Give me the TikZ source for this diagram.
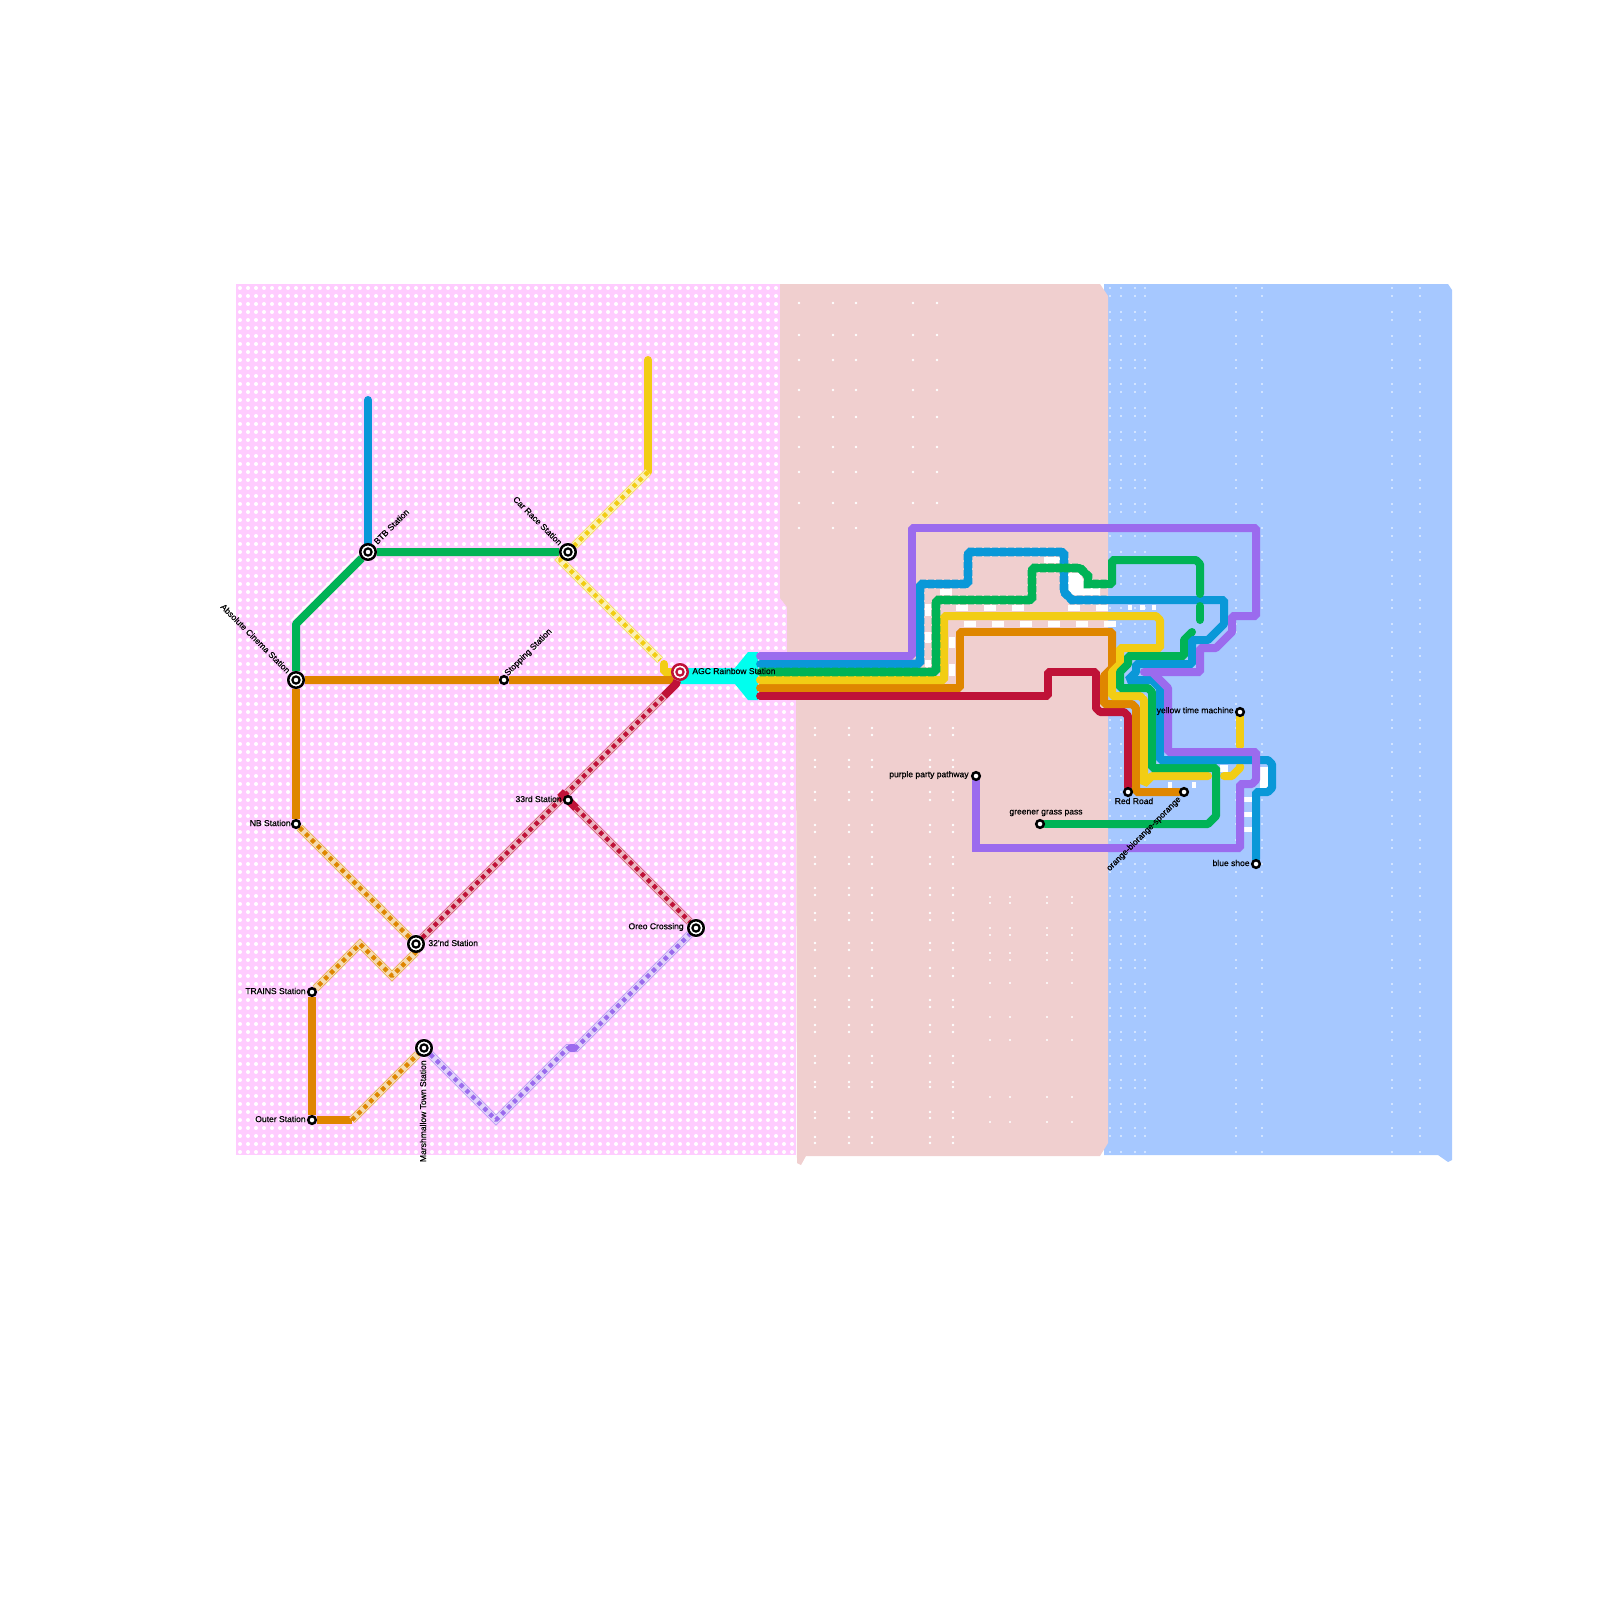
\documentclass[tikz,border=0pt]{standalone}
\usepackage{fontspec}
\usepackage{xcolor}
\setmainfont{Liberation Sans}
\newfontfamily\labelfont[FakeBold=0.4]{Liberation Sans}
\usetikzlibrary{backgrounds}
\definecolor{zonepink}{HTML}{FFCCFF}
\definecolor{zonerose}{HTML}{F0CFCF}
\definecolor{zonesky}{HTML}{A6C8FF}
\definecolor{railpurple}{HTML}{9B6BEE}
\definecolor{railblue}{HTML}{0A98D8}
\definecolor{railgreen}{HTML}{00B356}
\definecolor{railyellow}{HTML}{F2CD14}
\definecolor{railorange}{HTML}{DF8600}
\definecolor{railred}{HTML}{BF1238}
\definecolor{rivercyan}{HTML}{00FFEE}
\tikzset{
  rail/.style={line width=4pt, line cap=round, line join=bevel},
  scallop/.style={draw=#1, line width=3.9pt, line cap=round, line join=bevel,
    preaction={draw=#1, line width=4.4pt, dash pattern=on 3pt off 1pt, line cap=butt}},
  tunnel/.style={draw=#1, line width=2.2pt, line join=bevel, dash pattern=on 2.1pt off 2.1pt,
    preaction={draw=#1!70!white, solid, line width=4pt},
    preaction={draw=#1!30!white, solid, line width=3.2pt}},
  stop/.style={circle, draw=black, fill=white, line width=1.25pt, minimum size=3.8pt, inner sep=0pt},
  hub/.style={circle, draw=#1, fill=white, line width=1.25pt, minimum size=7.75pt, inner sep=0pt,
    path picture={\draw[#1, line width=1.1pt] (path picture bounding box.center) circle (1.8pt);}},
  hub/.default=black,
  dotrow/.style={white, line width=2pt, line cap=round, dash pattern=on 0pt off 4pt},
  stlabel/.style={font=\labelfont\fontsize{4.27}{5}\selectfont, inner sep=0pt, text=black},
}
\begin{document}
\begin{tikzpicture}[x=0.5pt, y=-0.5pt]
  \useasboundingbox (0,0) rectangle (1600,1600);

  % stations
  \node[hub] (absc) at (296,680) {};
  \node[hub] (btb) at (368,552) {};
  \node[hub] (carrace) at (568,552) {};
  \node[stop] (stopping) at (504,680) {};
  \node[hub=railred] (agc) at (680,672) {};
  \node[stop] (third) at (568,800) {};
  \node[hub] (oreo) at (696,928) {};
  \node[hub] (second) at (416,944) {};
  \node[hub] (marsh) at (424,1048) {};
  \node[stop] (nb) at (296,824) {};
  \node[stop] (trains) at (312,992) {};
  \node[stop] (outer) at (312,1120) {};
  \node[stop] (party) at (976,776) {};
  \node[stop] (grass) at (1040,824) {};
  \node[stop] (redroad) at (1128,792) {};
  \node[stop] (sporange) at (1184,792) {};
  \node[stop] (yellowtm) at (1240,712) {};
  \node[stop] (shoe) at (1256,864) {};

  % station names
  \node[stlabel, anchor=west] (agcname) at (692,671) {AGC Rainbow Station};
  \node[stlabel, anchor=west, rotate=45] (btbname) at (375,543) {BTB Station};
  \node[stlabel, anchor=east, rotate=-45] (abscname) at (289,672) {Absolute Cinema Station};
  \node[stlabel, anchor=east, rotate=-45] (carname) at (561,544) {Car Race Station};
  \node[stlabel, anchor=west, rotate=45] (stopname) at (506,675) {Stopping Station};
  \node[stlabel, anchor=east] (thirdname) at (562,799) {33rd Station};
  \node[stlabel, anchor=east] (oreoname) at (684,927) {Oreo Crossing};
  \node[stlabel, anchor=west] (secondname) at (428,943) {32'nd Station};
  \node[stlabel, anchor=east] (nbname) at (291,823) {NB Station};
  \node[stlabel, anchor=east] (trainsname) at (306,991) {TRAINS Station};
  \node[stlabel, anchor=east] (outername) at (306,1119) {Outer Station};
  \node[stlabel, anchor=east, rotate=90] (marshname) at (423,1060) {Marshmallow Town Station};
  \node[stlabel, anchor=east] (partyname) at (969,775) {purple party pathway};
  \node[stlabel] (grassname) at (1046,813) {greener grass pass};
  \node[stlabel] (redname) at (1134,801) {Red Road};
  \node[stlabel, anchor=east, rotate=45] (sporangename) at (1180,798) {orange-biorange-sporange};
  \node[stlabel, anchor=east] (yellowname) at (1234,711) {yellow time machine};
  \node[stlabel, anchor=east] (shoename) at (1250,863) {blue shoe};

  \begin{scope}[on background layer]
    % zones
    \fill[zonepink] (236,284) rectangle (796,1155);
    \foreach \i in {240,248,...,792}
      \draw[dotrow] (\i,288) -- (\i,1155);
    \fill[zonesky] (1104,284) -- (1448,284) -- (1452,290) -- (1452,1160) -- (1448,1162) -- (1438,1155) -- (1104,1155) -- cycle;
    \fill[zonerose] (780,284) -- (1100,284) -- (1108,296) -- (1108,1143) -- (1100,1156) -- (806,1156) -- (801,1165) -- (797,1163) -- (796,700) -- (787,700) -- (787,607) -- (780,598) -- cycle;

    % specks the zones let through
    \foreach \i in {799,833,856,913,937}
      \foreach \j in {303,335,360,390,417,447,472,503,528}
        \fill[white] (\i,\j) circle (0.7pt);
    \foreach \i in {815,849,872,930,953}
      \foreach \j in {728,735,760,767,792,800,825,832,857,864,888,895,913,920,943,950,968,976,1000,1007,1025,1032,1056,1063,1082,1087,1112,1118,1137,1143}
        \fill[white] (\i,\j) circle (0.7pt);
    \foreach \i in {990,1010,1047,1072}
      \foreach \j in {897,903,928,935,953,960,983,1017,1040,1097,1122}
        \fill[white] (\i,\j) circle (0.6pt);
    \foreach \i in {1110,1121,1135,1145,1236,1262,1392,1420}
      \foreach \j in {288,312,...,1152}
        \fill[white] (\i,\j) circle (0.45pt);
    \foreach \i in {1110,1121,1135,1145,1236,1262,1392,1420}
      \foreach \j in {296,320,...,1152}
        \fill[white] (\i,\j) circle (0.45pt);

    % bare ground beside the bundle
    \foreach \xa/\ya/\xb/\yb in {956/605/968/611, 984/605/996/611, 1012/605/1024/611, 1068/605/1080/611, 1096/605/1108/611,
        964/621/976/627, 992/621/1004/627, 1020/621/1032/627, 1048/621/1060/627, 1076/621/1088/627, 1104/621/1116/627,
        925/604/931/616, 925/632/931/643, 925/660/931/667, 949/637/955/648, 949/664/955/676,
        940/589/952/595, 1044/557/1060/563, 1128/605/1132/610, 1140/605/1145/610, 1152/605/1156/610,
        1168/782/1172/788, 1192/782/1196/788, 1243/797/1253/802, 1243/812/1253/817, 1243/827/1253/832,
        1260/767/1268/788, 1220/765/1228/772}
      \fill[white] (\xa,\ya) rectangle (\xb,\yb);
    \fill[white] (1067,573) -- (1080,573) -- (1087,588) -- (1100,588) -- (1100,595) -- (1073,595) -- (1068,590) -- cycle;

    % water
    \fill[rivercyan] (680,668) -- (735,668) -- (748,652) -- (758,652) -- (758,700) -- (748,700) -- (735,684) -- (680,684) -- cycle;

    % left side lines
    \draw[rail, railblue] (368,400) -- (btb);
    \draw[white, line width=0.7pt] (291,621) -- (359,553);
    \draw[rail, railgreen, line cap=butt] (absc) -- (296,624) -- (btb) -- (carrace);
    \draw[rail, railyellow] (648,360) -- (648,472);
    \draw[tunnel=railyellow] (648,472) -- (carrace);
    \draw[tunnel=railyellow] (carrace) -- (560,560) -- (660,660);
    \draw[rail, railyellow] (664,664) -- (664,672) -- (agc);
    \draw[rail, railorange, line cap=butt] (absc) -- (stopping) -- (672,680) -- (agc);
    \draw[rail, railorange, line cap=butt] (absc) -- (nb);
    \draw[tunnel=railorange] (nb) -- (second);
    \draw[tunnel=railorange] (second) -- (416,952) -- (392,976) -- (360,944) -- (trains);
    \draw[rail, railorange, line cap=butt] (trains) -- (outer) -- (352,1120);
    \draw[tunnel=railorange] (352,1120) -- (marsh);
    \draw[tunnel=railred] (second) -- (664,696);
    \draw[rail, railred, line cap=butt] (664,696) -- (676,684) -- (agc);
    \draw[tunnel=railred] (576,808) -- (oreo);
    \draw[rail, railred, line cap=butt] (560,792) -- (576,808);
    \draw[tunnel=railpurple] (marsh) -- (496,1120) -- (568,1048) -- (576,1048) -- (oreo);
    \draw[rail, railpurple] (571,1048) -- (574,1048);

    % right side lines, bundle first
    \draw[scallop=railred] (760,696) -- (1048,696) -- (1048,672) -- (1096,672) -- (1096,708);
    \draw[rail, railred] (1096,708) -- (1100,712) -- (1124,712) -- (1128,716) -- (redroad);
    \draw[scallop=railorange] (760,688) -- (960,688) -- (960,632) -- (1108,632);
    \draw[rail, railorange] (1108,632) -- (1112,632) -- (1112,668) -- (1104,676) -- (1104,704) -- (1132,704) -- (1136,708) -- (1136,792) -- (sporange);
    \draw[rail, railyellow] (760,680) -- (944,680) -- (944,616) -- (1156,616) -- (1160,620) -- (1160,648) -- (1120,648) -- (1120,664) -- (1112,672) -- (1112,696) -- (1140,696) -- (1144,700) -- (1144,784) -- (1152,776) -- (1208,776);
    \draw[rail, railyellow] (1224,776) -- (1232,776) -- (1240,768) -- (1240,766);
    \draw[rail, railyellow] (yellowtm) -- (1240,746);
    \draw[rail, railgreen] (1192,632) -- (1184,640) -- (1184,656) -- (1128,656) -- (1128,664) -- (1120,672) -- (1120,688) -- (1148,688) -- (1152,692) -- (1152,768) -- (1216,768) -- (1216,816) -- (1208,824) -- (1108,824);
    \draw[scallop=railgreen] (1108,824) -- (grass);
    \draw[scallop=railblue] (760,664) -- (920,664) -- (920,584) -- (968,584) -- (968,552) -- (1064,552) -- (1064,592) -- (1072,600) -- (1108,600);
    \draw[rail, railblue] (1108,600) -- (1224,600) -- (1224,624) -- (1208,640) -- (1192,640) -- (1192,664) -- (1136,664) -- (1136,672) -- (1128,680) -- (1152,680) -- (1160,688) -- (1160,760) -- (1268,760) -- (1272,764) -- (1272,788) -- (1268,792) -- (1256,792) -- (shoe);
    \draw[scallop=railgreen] (760,672) -- (936,672) -- (936,600) -- (1032,600) -- (1032,568) -- (1080,568) -- (1088,576) -- (1088,584) -- (1108,584);
    \draw[rail, railgreen] (1108,584) -- (1112,584) -- (1112,560) -- (1196,560) -- (1200,564) -- (1200,594);
    \draw[rail, railgreen] (1200,606) -- (1200,620);
    \draw[scallop=railpurple] (760,656) -- (912,656) -- (912,528) -- (1108,528);
    \draw[rail, railpurple] (1108,528) -- (1256,528) -- (1256,616) -- (1232,616) -- (1232,632) -- (1216,648) -- (1200,648) -- (1200,672) -- (1144,672);
    \draw[rail, railpurple] (1152,672) -- (1168,688) -- (1168,752) -- (1256,752) -- (1256,780) -- (1252,784) -- (1240,784) -- (1240,848) -- (1108,848);
    \draw[scallop=railpurple] (1108,848) -- (976,848) -- (party);
  \end{scope}
\end{tikzpicture}
\end{document}
